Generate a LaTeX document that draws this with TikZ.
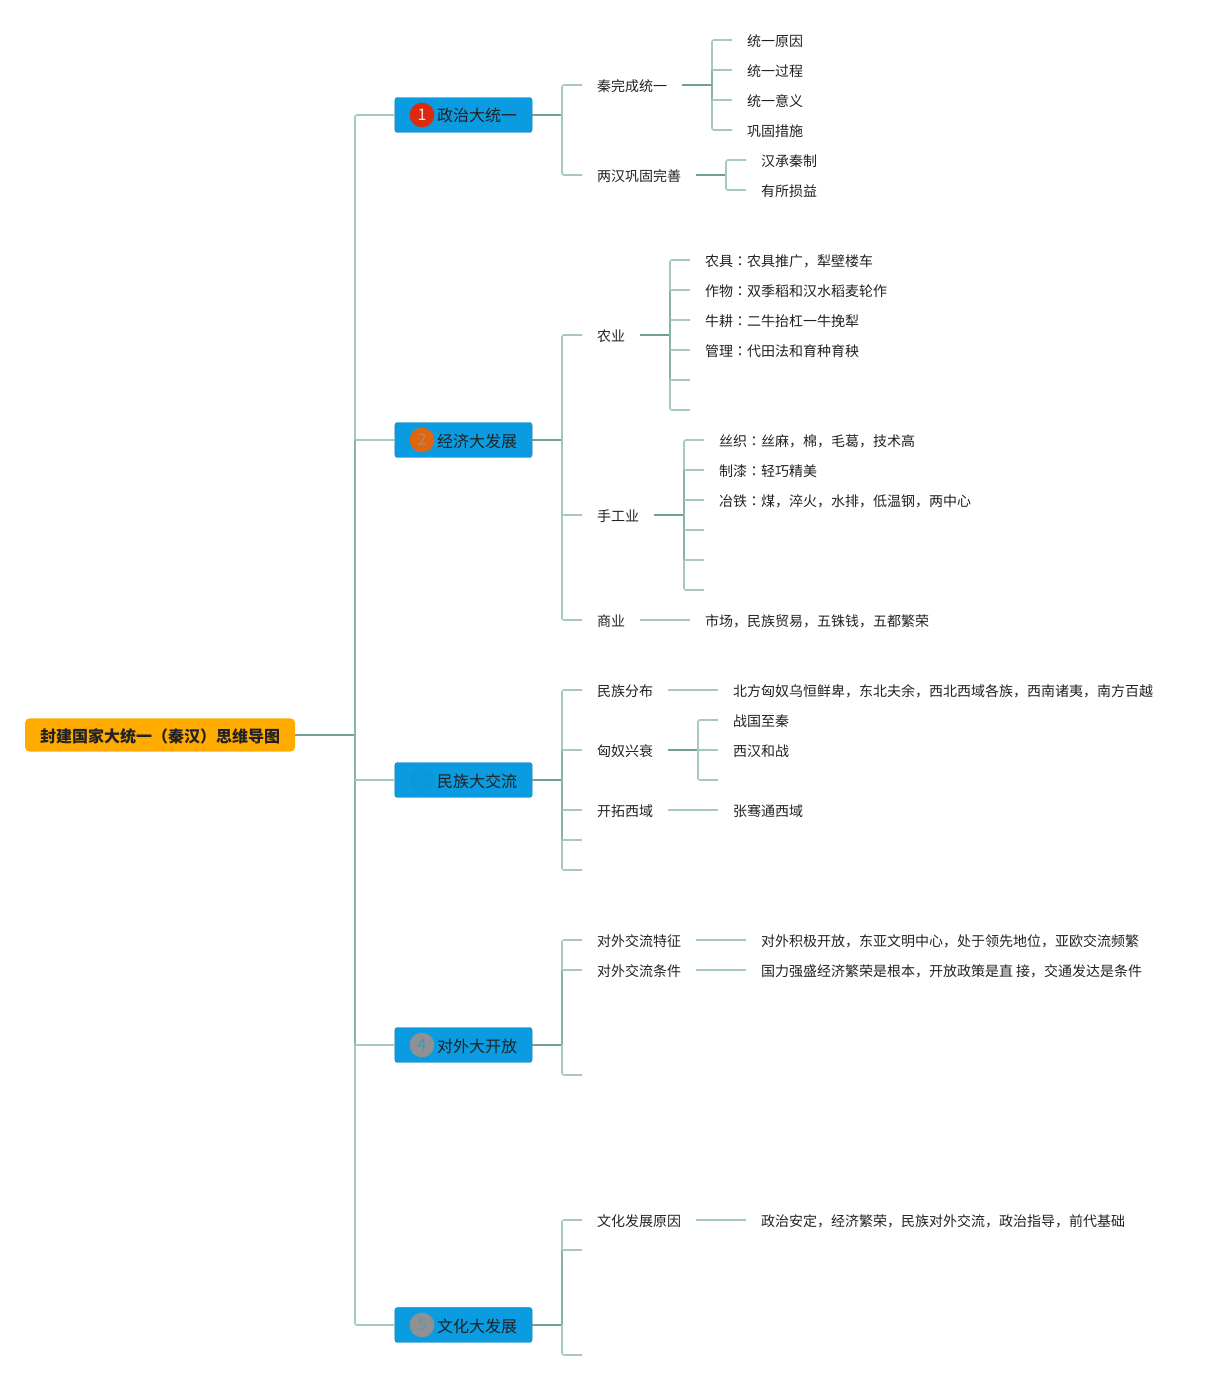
\documentclass[tikz,border=0pt]{standalone}
\usepackage{fontspec}
\setmainfont{Noto Sans CJK SC}
\newfontfamily\colonfont{Noto Sans CJK TC}
\usepackage{xcolor}
\definecolor{branchlite}{HTML}{A6C8BE}
\definecolor{branchmid}{HTML}{88B3A7}
\definecolor{branchdark}{HTML}{6FA293}
\definecolor{topicblue}{HTML}{0A9BE0}
\definecolor{rootorange}{HTML}{FFAB00}
\definecolor{inktext}{HTML}{222222}
\definecolor{badgered}{HTML}{DE2A0C}
\definecolor{badgeorange}{HTML}{E0650F}
\definecolor{badgegray}{HTML}{8E9293}
\newcommand{\colonmark}{{\colonfont ：}}
\tikzset{
  lite/.style={draw=branchlite,line width=1.2pt,rounded corners=1.5pt},
  spine/.style={draw=branchmid,line width=1.2pt},
  dark/.style={draw=branchdark,line width=1.3pt},
  leaf/.style={anchor=west,inner xsep=11.25pt,inner ysep=0pt,outer sep=0pt,text=inktext,font=\fontsize{10.5pt}{12pt}\selectfont,text height=9.9pt,text depth=0pt},
  topic/.style={fill=topicblue,draw=topicblue!85!black,line width=0.3pt,rounded corners=2pt,minimum width=103pt,minimum height=26.2pt,inner sep=0pt,text=inktext,text height=10.5pt,text depth=0pt},
  badge/.style={circle,minimum size=18.5pt,inner sep=0pt,font=\fontsize{12pt}{12pt}\selectfont},
}
\begin{document}
\begin{tikzpicture}[x=0.75pt,y=-0.75pt]
  \useasboundingbox (0,0) rectangle (1213,1380);
  % root and spine
  \node[fill=rootorange,rounded corners=3.5pt,minimum width=202.5pt,minimum height=25pt,inner sep=0pt,outer sep=0pt,text=inktext,font=\fontsize{12pt}{13pt}\selectfont\bfseries,text height=11pt,text depth=0pt] (root) at (160,735) {封建国家大统一（秦汉）思维导图};
  \coordinate (sp) at (355,735);
  \coordinate (spa) at (355,440);
  \coordinate (spb) at (355,780);
  \coordinate (spc) at (355,1045);
  % topics
  \foreach \nm/\yy/\txt in {pol/115/政治大统一,eco/440/经济大发展,eth/780/民族大交流,ext/1045/对外大开放,cul/1325/文化大发展}
    \node[topic,font=\fontsize{12pt}{14pt}\selectfont] (\nm) at (463.5,\yy) {\hspace{20.5pt}\txt};
  \node[badge,fill=badgered,text=white!88!red] (b1) at (422,115) {1};
  \node[badge,fill=badgeorange,text=badgegray!70!orange] (b2) at (422,440) {2};
  \node[badge,fill=topicblue!98!black,text=topicblue!98!black] (b3) at (422,780) {3};
  \node[badge,fill=badgegray,text=topicblue!60!badgegray] (b4) at (422,1045) {4};
  \node[badge,fill=badgegray,text=topicblue!30!badgegray] (b5) at (422,1325) {5};
  \draw[lite] (pol.west) -| (spa);
  \draw[lite] (spc) |- (cul.west);
  \draw[dark] (root.east) -- (sp);
  \draw[spine] (spa) -- (spc);
  \draw[lite] (eco.west) -- (spa);
  \draw[lite] (eth.west) -- (spb);
  \draw[lite] (ext.west) -- (spc);
  % pol branch
  \node[leaf] (qin) at (582,85) {秦完成统一};
  \node[leaf] (han) at (582,175) {两汉巩固完善};
  \coordinate (polsp) at (562,115);
  \draw[dark] (pol.east) -- (polsp);
  \draw[lite] (qin.west) -| (polsp) |- (han.west);
  \coordinate (qinsp) at (712,85);
  \coordinate (qina) at (712,70);
  \coordinate (qinb) at (712,100);
  \foreach \nm/\yy/\txt in {qa/40/统一原因,qb/70/统一过程,qc/100/统一意义,qd/130/巩固措施}
    \node[leaf] (\nm) at (732,\yy) {\txt};
  \draw[lite] (qa.west) -| (qina);
  \draw[lite] (qd.west) -| (qinb);
  \draw[spine] (qina) -- (qinb);
  \draw[lite] (qina) -- (qb.west);
  \draw[lite] (qinb) -- (qc.west);
  \draw[dark] (qin.east) -- (qinsp);
  \node[leaf] (ha) at (746,160) {汉承秦制};
  \node[leaf] (hb) at (746,190) {有所损益};
  \coordinate (hansp) at (726,175);
  \draw[dark] (han.east) -- (hansp);
  \draw[lite] (ha.west) -| (hansp) |- (hb.west);
  % eco branch
  \node[leaf] (nong) at (582,335) {农业};
  \node[leaf] (shou) at (582,515) {手工业};
  \node[leaf] (shang) at (582,620) {商业};
  \coordinate (ecosp) at (562,440);
  \coordinate (nongsp) at (670,335);
  \coordinate (nonga) at (670,290);
  \coordinate (nongb) at (670,380);
  \draw[dark] (eco.east) -- (ecosp);
  \draw[lite] (nong.west) -| (ecosp);
  \draw[lite] (shang.west) -| (ecosp);
  \draw[lite] (shou.west) -| (ecosp);
  \draw[dark] (nong.east) -- (nongsp);
  \foreach \nm/\yy/\txt in {na/260/农具\colonmark 农具推广，犁壁楼车,nb/290/作物\colonmark 双季稻和汉水稻麦轮作,nc/320/牛耕\colonmark 二牛抬杠一牛挽犁,nd/350/管理\colonmark 代田法和育种育秧}
    \node[leaf] (\nm) at (690,\yy) {\txt};
  \coordinate (ne) at (690,380);
  \coordinate (nf) at (690,410);
  \draw[lite] (na.west) -| (nonga);
  \draw[lite] (nf) -| (nongb);
  \draw[spine] (nonga) -- (nongb);
  \draw[lite] (nonga) -- (nb.west);
  \draw[lite] (nc.west) -- (nc.west -| nongsp);
  \draw[lite] (nd.west) -- (nd.west -| nongsp);
  \draw[lite] (nongb) -- (ne);
  \coordinate (shousp) at (684,515);
  \coordinate (shoua) at (684,470);
  \coordinate (shoub) at (684,560);
  \draw[dark] (shou.east) -- (shousp);
  \foreach \nm/\yy/\txt in {sa/440/丝织\colonmark 丝麻，棉，毛葛，技术高,sb/470/制漆\colonmark 轻巧精美,sc/500/冶铁\colonmark 煤，淬火，水排，低温钢，两中心}
    \node[leaf] (\nm) at (704,\yy) {\txt};
  \coordinate (sd) at (704,530);
  \coordinate (se) at (704,560);
  \coordinate (sf) at (704,590);
  \draw[lite] (sa.west) -| (shoua);
  \draw[lite] (sf) -| (shoub);
  \draw[spine] (shoua) -- (shoub);
  \draw[lite] (shoua) -- (sb.west);
  \draw[lite] (sc.west) -- (sc.west -| shousp);
  \draw[lite] (sd) -- (sd -| shousp);
  \draw[lite] (shoub) -- (se);
  \node[leaf] (sg) at (690,620) {市场，民族贸易，五铢钱，五都繁荣};
  \draw[lite] (shang.east) -- (sg.west);
  % eth branch
  \node[leaf] (fenbu) at (582,690) {民族分布};
  \node[leaf] (xiongnu) at (582,750) {匈奴兴衰};
  \node[leaf] (xiyu) at (582,810) {开拓西域};
  \coordinate (ethd) at (582,840);
  \coordinate (ethe) at (582,870);
  \coordinate (ethsp) at (562,780);
  \coordinate (ethb) at (562,840);
  \coordinate (etha) at (562,750);
  \draw[dark] (eth.east) -- (ethsp);
  \draw[lite] (fenbu.west) -| (etha);
  \draw[spine] (etha) -- (ethb);
  \draw[lite] (etha) -- (xiongnu.west);
  \draw[lite] (xiyu.west) -- (xiyu.west -| ethsp);
  \draw[lite] (ethb) -- (ethd);
  \draw[lite] (ethe) -| (ethb);
  \node[leaf] (fa) at (718,690) {北方匈奴乌恒鲜卑，东北夫余，西北西域各族，西南诸夷，南方百越};
  \draw[lite] (fenbu.east) -- (fa.west);
  \node[leaf] (xa) at (718,720) {战国至秦};
  \node[leaf] (xb) at (718,750) {西汉和战};
  \coordinate (xc) at (718,780);
  \coordinate (xsp) at (698,750);
  \draw[dark] (xiongnu.east) -- (xsp);
  \draw[lite] (xa.west) -| (xsp) |- (xc);
  \draw[lite] (xsp) -- (xb.west);
  \node[leaf] (ya) at (718,810) {张骞通西域};
  \draw[lite] (xiyu.east) -- (ya.west);
  % ext branch
  \node[leaf] (tezheng) at (582,940) {对外交流特征};
  \node[leaf] (tiaojian) at (582,970) {对外交流条件};
  \coordinate (extc) at (582,1075);
  \coordinate (extsp) at (562,1045);
  \coordinate (exta) at (562,970);
  \draw[dark] (ext.east) -- (extsp);
  \draw[lite] (tezheng.west) -| (exta);
  \draw[spine] (exta) -- (extsp);
  \draw[lite] (exta) -- (tiaojian.west);
  \draw[lite] (extc) -| (extsp);
  \node[leaf] (ta) at (746,940) {对外积极开放，东亚文明中心，处于领先地位，亚欧交流频繁};
  \node[leaf] (tb) at (746,970) {国力强盛经济繁荣是根本，开放政策是直 接，交通发达是条件};
  \draw[lite] (tezheng.east) -- (ta.west);
  \draw[lite] (tiaojian.east) -- (tb.west);
  % cul branch
  \node[leaf] (yuanyin) at (582,1220) {文化发展原因};
  \coordinate (culb) at (582,1250);
  \coordinate (culc) at (582,1355);
  \coordinate (culsp) at (562,1325);
  \coordinate (cula) at (562,1250);
  \draw[dark] (cul.east) -- (culsp);
  \draw[lite] (yuanyin.west) -| (cula);
  \draw[spine] (cula) -- (culsp);
  \draw[lite] (cula) -- (culb);
  \draw[lite] (culc) -| (culsp);
  \node[leaf] (ca) at (746,1220) {政治安定，经济繁荣，民族对外交流，政治指导，前代基础};
  \draw[lite] (yuanyin.east) -- (ca.west);
\end{tikzpicture}
\end{document}
